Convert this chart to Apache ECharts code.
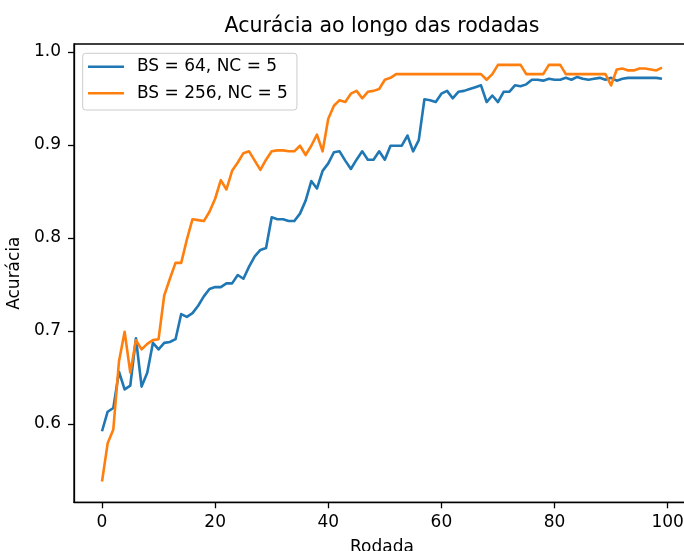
<!DOCTYPE html>
<html>
<head>
<meta charset="utf-8">
<script src="https://cdn.jsdelivr.net/npm/echarts@6/dist/echarts.min.js"></script>
<style>
html,body{margin:0;padding:0;background:#fff;}
#chart{width:684px;height:551px;}
</style>
</head>
<body>
<div id="chart"></div>
<script>
const rounds = Array.from({length: 100}, (_, i) => i);
const seriesNames = ['BS = 64, NC = 5', 'BS = 256, NC = 5'];
const accBS64 = [
  0.592, 0.613, 0.617, 0.656, 0.637, 0.641, 0.692, 0.640, 0.655, 0.687,
  0.680, 0.687, 0.688, 0.691, 0.718, 0.715, 0.719, 0.727, 0.737, 0.745,
  0.747, 0.747, 0.751, 0.751, 0.760, 0.756, 0.769, 0.780, 0.787, 0.789,
  0.822, 0.820, 0.820, 0.818, 0.818, 0.826, 0.840, 0.861, 0.853, 0.872,
  0.880, 0.892, 0.893, 0.883, 0.874, 0.884, 0.893, 0.884, 0.884, 0.893,
  0.884, 0.899, 0.899, 0.899, 0.910, 0.893, 0.905, 0.949, 0.948, 0.946,
  0.955, 0.958, 0.950, 0.957, 0.958, 0.960, 0.962, 0.964, 0.946, 0.953,
  0.946, 0.957, 0.957, 0.964, 0.963, 0.965, 0.970, 0.970, 0.969, 0.971,
  0.970, 0.970, 0.972, 0.970, 0.973, 0.971, 0.970, 0.971, 0.972, 0.970,
  0.972, 0.969, 0.971, 0.972, 0.972, 0.972, 0.972, 0.972, 0.972, 0.971
];
const accBS256 = [
  0.538, 0.579, 0.594, 0.667, 0.699, 0.655, 0.690, 0.680, 0.686, 0.690,
  0.691, 0.738, 0.756, 0.773, 0.773, 0.798, 0.820, 0.819, 0.818, 0.828,
  0.842, 0.862, 0.852, 0.872, 0.881, 0.891, 0.893, 0.883, 0.873, 0.884,
  0.893, 0.894, 0.894, 0.893, 0.893, 0.899, 0.889, 0.899, 0.911, 0.893,
  0.928, 0.942, 0.948, 0.946, 0.955, 0.958, 0.950, 0.957, 0.958, 0.960,
  0.970, 0.972, 0.976, 0.976, 0.976, 0.976, 0.976, 0.976, 0.976, 0.976,
  0.976, 0.976, 0.976, 0.976, 0.976, 0.976, 0.976, 0.976, 0.970, 0.976,
  0.986, 0.986, 0.986, 0.986, 0.986, 0.976, 0.976, 0.976, 0.976, 0.986,
  0.986, 0.986, 0.976, 0.976, 0.976, 0.976, 0.976, 0.976, 0.976, 0.976,
  0.964, 0.981, 0.982, 0.980, 0.980, 0.982, 0.982, 0.981, 0.980, 0.983
];
const xTicks = [0, 20, 40, 60, 80, 100];
const yTicks = [0.6, 0.7, 0.8, 0.9, 1.0];

const FONT = 'DejaVu Sans';
const chart = echarts.init(document.getElementById('chart'), null, {renderer: 'canvas'});
chart.setOption({
  animation: false,
  backgroundColor: '#ffffff',
  color: ['#1f77b4', '#ff7f0e'],
  title: {
    text: 'Acurácia ao longo das rodadas',
    left: 382, top: 16, textAlign: 'center',
    padding: 0,
    textStyle: {fontFamily: FONT, fontSize: 20.5, fontWeight: 'normal', color: '#000', lineHeight: 20.5}
  },
  grid: {
    left: 74, right: -6, top: 44, bottom: 48.7,
    show: true, borderColor: '#000', borderWidth: 1.3,
    containLabel: false, outerBoundsMode: 'none'
  },
  legend: {
    orient: 'vertical',
    left: 82.7, top: 53.3,
    padding: [4.9, 9, 8.2, 5.3],
    itemGap: 9.6,
    itemWidth: 36, itemHeight: 2.6,
    icon: 'rect',
    backgroundColor: 'rgba(255,255,255,0.8)',
    borderColor: '#cccccc', borderWidth: 1, borderRadius: 3,
    itemStyle: {borderWidth: 0},
    textStyle: {fontFamily: FONT, fontSize: 17, color: '#000', lineHeight: 17, padding: [0, 0, 0, 8]},
    data: seriesNames
  },
  xAxis: {
    type: 'value', min: -4.95, max: 103.95,
    name: 'Rodada', nameLocation: 'middle', nameGap: 36.5,
    nameTextStyle: {fontFamily: FONT, fontSize: 17, color: '#000', lineHeight: 17},
    axisLine: {show: true, onZero: false, lineStyle: {color: '#000', width: 1.3}},
    axisTick: {show: true, inside: false, length: 6, lineStyle: {color: '#000', width: 1.3}, customValues: xTicks},
    axisLabel: {fontFamily: FONT, fontSize: 17, color: '#000', margin: 12, lineHeight: 17, customValues: xTicks,
      formatter: v => String(Math.round(v))},
    splitLine: {show: false}
  },
  yAxis: {
    type: 'value', min: 0.5156, max: 1.0084,
    name: 'Acurácia', nameLocation: 'middle', nameGap: 45.5, nameRotate: 90,
    nameTextStyle: {fontFamily: FONT, fontSize: 17, color: '#000', lineHeight: 17},
    axisLine: {show: true, onZero: false, lineStyle: {color: '#000', width: 1.3}},
    axisTick: {show: true, inside: false, length: 6, lineStyle: {color: '#000', width: 1.3}, customValues: yTicks},
    axisLabel: {fontFamily: FONT, fontSize: 17, color: '#000', margin: 13, customValues: yTicks,
      formatter: v => v.toFixed(1)},
    splitLine: {show: false}
  },
  series: [
    {name: seriesNames[0], type: 'line', data: rounds.map((r, i) => [r, accBS64[i]]),
     showSymbol: false, symbol: 'none', lineStyle: {width: 2.6, color: '#1f77b4', join: 'round'}, z: 2},
    {name: seriesNames[1], type: 'line', data: rounds.map((r, i) => [r, accBS256[i]]),
     showSymbol: false, symbol: 'none', lineStyle: {width: 2.6, color: '#ff7f0e', join: 'round'}, z: 3}
  ]
});
</script>
</body>
</html>
